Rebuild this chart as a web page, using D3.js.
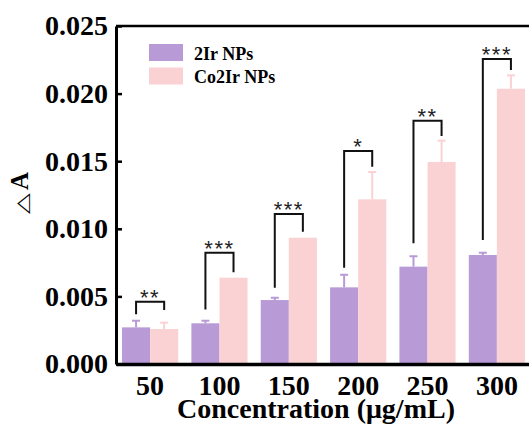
<!DOCTYPE html>
<html>
<head>
<meta charset="utf-8">
<script src="https://cdn.jsdelivr.net/npm/d3@7"></script>
<style>
  html, body { margin: 0; padding: 0; background: #fff; }
  svg { display: block; }
  .serif { font-family: "Liberation Serif", "Times New Roman", serif; font-weight: bold; }
</style>
</head>
<body>
<svg id="chart" width="529" height="425"></svg>
<script>
// ---- data ----
const categories = ["50", "100", "150", "200", "250", "300"];
const seriesNames = ["2Ir NPs", "Co2Ir NPs"];
const values2Ir = [0.00271, 0.00301, 0.00473, 0.00567, 0.00720, 0.00806];
const errors2Ir = [0.00049, 0.00019, 0.00017, 0.00093, 0.00077, 0.00017];
const valuesCo2Ir = [0.00259, 0.00638, 0.00934, 0.01218, 0.01494, 0.02036];
const errorsCo2Ir = [0.00047, 0.0, 0.0, 0.00202, 0.00158, 0.00099];
const bracketTop = [0.00461, 0.00823, 0.01109, 0.01575, 0.01800, 0.02256];
const bracketLeftEnd = [0.00368, 0.00404, 0.00564, 0.00712, 0.00893, 0.00917];
const bracketRightEnd = [0.00399, 0.00678, 0.00979, 0.01459, 0.01686, 0.02175];
const significance = ["**", "***", "***", "*", "**", "***"];
const yTicks = [0, 0.005, 0.010, 0.015, 0.020, 0.025];
const colors = ["#B89AD7", "#FBD2D3"];

// ---- layout ----
const svg = d3.select("#chart");
const mLeft = 116, mTop = 26, mBottom = 364, mRight = 531;

const x0 = d3.scaleBand().domain(categories).range([mLeft, mRight])
  .paddingInner(0.19).paddingOuter(0.087);
const x1 = d3.scaleBand().domain(seriesNames).range([0, x0.bandwidth()]).padding(0);
const y = d3.scaleLinear().domain([0, 0.025]).range([mBottom, mTop]);

const rows = categories.map((c, i) => ({
  cat: c,
  bars: [
    { name: seriesNames[0], v: values2Ir[i], e: errors2Ir[i], color: colors[0] },
    { name: seriesNames[1], v: valuesCo2Ir[i], e: errorsCo2Ir[i], color: colors[1] }
  ],
  bt: bracketTop[i], l: bracketLeftEnd[i], r: bracketRightEnd[i], sig: significance[i]
}));

// bars
const g = svg.append("g");
const groups = g.selectAll("g.grp").data(rows).join("g")
  .attr("class", "grp")
  .attr("transform", d => `translate(${x0(d.cat)},0)`);

groups.selectAll("rect").data(d => d.bars).join("rect")
  .attr("x", d => x1(d.name))
  .attr("width", x1.bandwidth())
  .attr("y", d => y(d.v))
  .attr("height", d => y(0) - y(d.v))
  .attr("fill", d => d.color);

// error bars
const eb = groups.selectAll("g.err").data(d => d.bars.filter(b => b.e > 0)).join("g").attr("class", "err");
eb.append("line")
  .attr("x1", d => x1(d.name) + x1.bandwidth() / 2)
  .attr("x2", d => x1(d.name) + x1.bandwidth() / 2)
  .attr("y1", d => y(d.v))
  .attr("y2", d => y(d.v + d.e))
  .attr("stroke", d => d.color).attr("stroke-width", 2);
eb.append("line")
  .attr("x1", d => x1(d.name) + x1.bandwidth() / 2 - 4)
  .attr("x2", d => x1(d.name) + x1.bandwidth() / 2 + 4)
  .attr("y1", d => y(d.v + d.e))
  .attr("y2", d => y(d.v + d.e))
  .attr("stroke", d => d.color).attr("stroke-width", 2);

// significance brackets
groups.append("path")
  .attr("d", d => {
    const xl = x1(seriesNames[0]) + x1.bandwidth() / 2;
    const xr = x1(seriesNames[1]) + x1.bandwidth() / 2;
    return `M${xl},${y(d.l)}V${y(d.bt)}H${xr}V${y(d.r)}`;
  })
  .attr("fill", "none").attr("stroke", "#111").attr("stroke-width", 2);

groups.append("text")
  .attr("x", x0.bandwidth() / 2)
  .attr("y", d => y(d.bt) + 3)
  .attr("text-anchor", "middle")
  .attr("font-family", "Liberation Sans, Arial, sans-serif")
  .attr("font-size", 22)
  .attr("letter-spacing", 1.5)
  .attr("fill", "#222")
  .text(d => d.sig);

// frame top line
svg.append("line").attr("x1", mLeft).attr("x2", mRight).attr("y1", mTop).attr("y2", mTop)
  .attr("stroke", "#000").attr("stroke-width", 2.5);

// y axis
const yAxis = svg.append("g").attr("transform", `translate(${mLeft},0)`)
  .call(d3.axisLeft(y).tickValues(yTicks).tickFormat(d3.format(".3f"))
    .tickSizeInner(-6).tickSizeOuter(0).tickPadding(8));
yAxis.select(".domain").attr("stroke", "#000").attr("stroke-width", 3);
yAxis.selectAll(".tick line").attr("stroke", "#000").attr("stroke-width", 2.5);
yAxis.selectAll(".tick text").attr("class", "serif").attr("font-size", 28).attr("fill", "#000");

// x axis
const xAxis = svg.append("g").attr("transform", `translate(0,${mBottom})`)
  .call(d3.axisBottom(x0).tickSize(0).tickPadding(11));
xAxis.select(".domain").attr("stroke", "#000").attr("stroke-width", 3.5);
xAxis.selectAll(".tick text").attr("class", "serif").attr("font-size", 28).attr("fill", "#000");

// axis titles
svg.append("text").attr("class", "serif")
  .attr("x", 316).attr("y", 418)
  .attr("text-anchor", "middle").attr("font-size", 28).attr("fill", "#000")
  .text("Concentration (μg/mL)");

const yt = svg.append("g").attr("transform", "translate(28,193) rotate(-90)");
yt.append("text")
  .attr("x", -21).attr("y", 0)
  .attr("transform", "scale(1,0.62)")
  .attr("font-family", "DejaVu Sans, sans-serif")
  .attr("font-size", 27).attr("fill", "#000")
  .text("△");
yt.append("text").attr("class", "serif")
  .attr("x", 3).attr("y", 0)
  .attr("font-size", 25).attr("fill", "#000")
  .text("A");

// legend
const legend = svg.append("g").attr("transform", "translate(149,44)");
seriesNames.forEach((n, i) => {
  legend.append("rect").attr("x", 0).attr("y", i * 23.5).attr("width", 34).attr("height", 17)
    .attr("fill", colors[i]);
  legend.append("text").attr("class", "serif")
    .attr("x", 45).attr("y", i * 23.5 + 15.5)
    .attr("font-size", 18).attr("fill", "#000")
    .text(n);
});
</script>
</body>
</html>
